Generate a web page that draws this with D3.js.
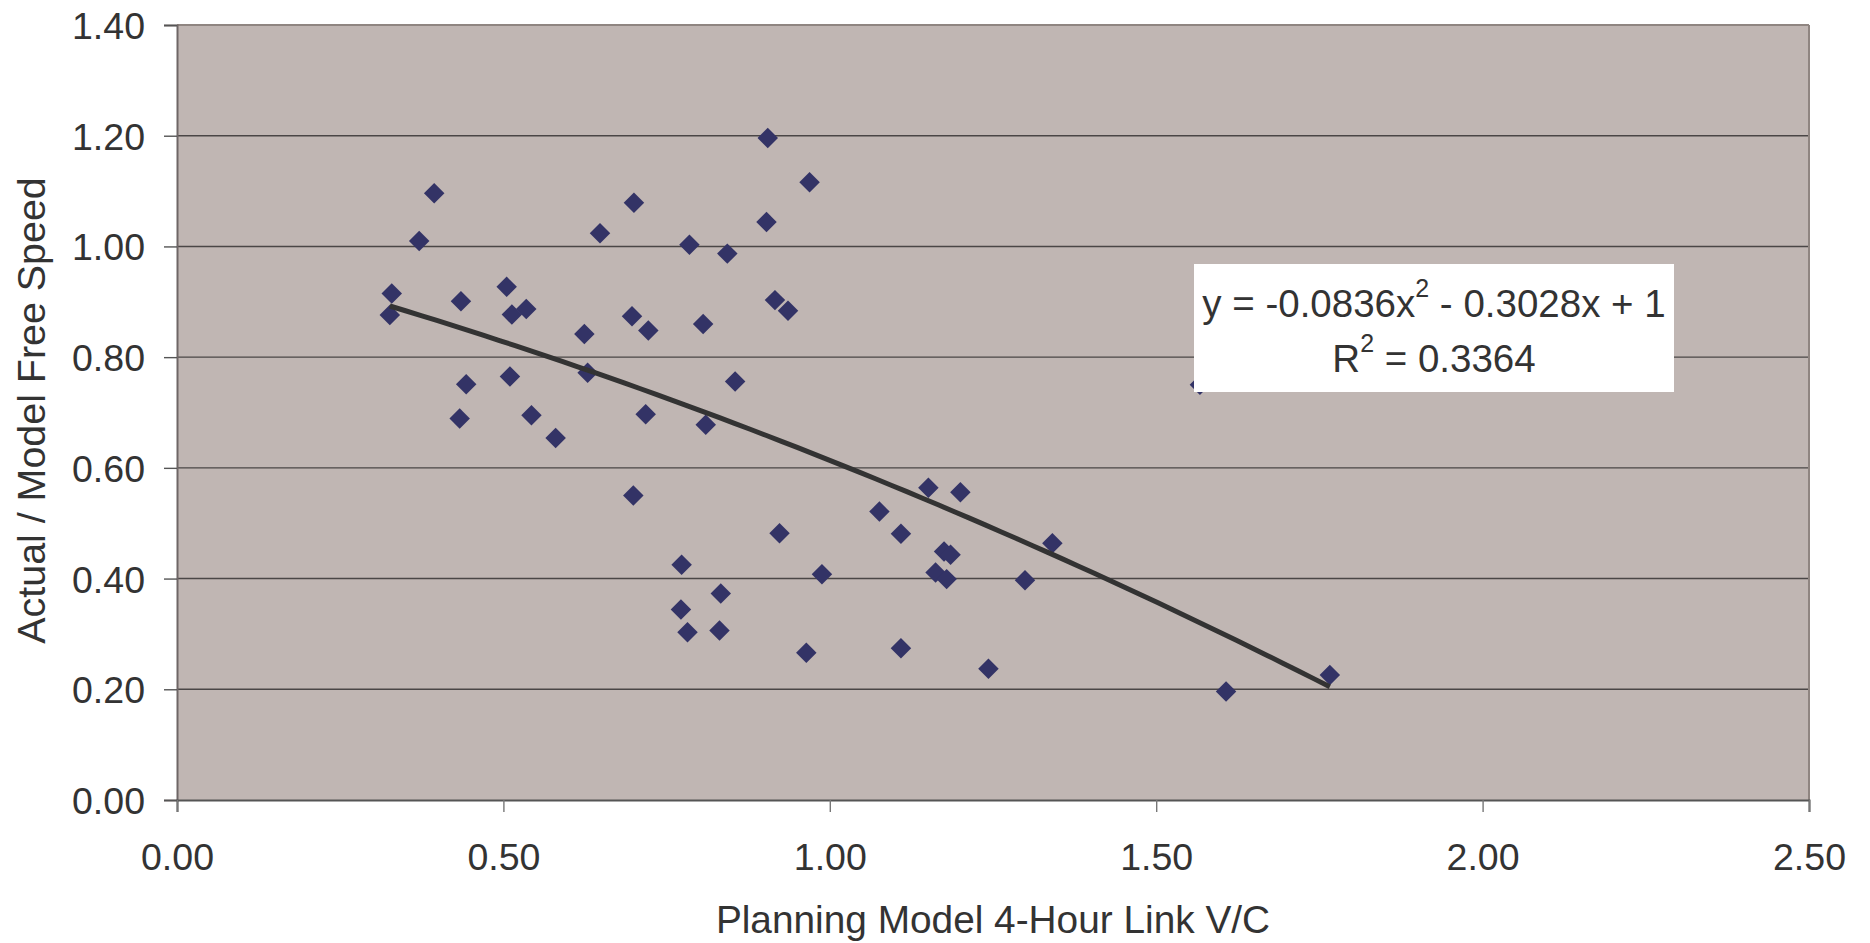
<!DOCTYPE html>
<html><head><meta charset="utf-8">
<script src="https://cdn.jsdelivr.net/npm/d3@7"></script>
<style>
body{margin:0;background:#fff;}
svg text{font-family:"Liberation Sans",Arial,Helvetica,sans-serif;fill:#333333;}
</style>
</head><body>
<svg id="chart" width="1870" height="943"></svg>
<script>
// Planning Model 4-Hour Link V/C (x values)
const vcRatio = [0.326,0.329,0.371,0.394,0.435,0.433,0.443,0.505,0.510,0.513,0.535,0.543,0.580,0.624,0.629,0.648,0.697,0.700,0.699,0.718,0.722,0.773,0.772,0.782,0.785,0.806,0.810,0.833,0.831,0.843,0.855,0.905,0.903,0.916,0.923,0.936,0.964,0.969,0.988,1.076,1.109,1.109,1.151,1.162,1.175,1.179,1.185,1.200,1.243,1.299,1.341,1.567,1.607,1.766];
// Actual / Model Free Speed (y values)
const speedRatio = [0.876,0.915,1.010,1.096,0.901,0.689,0.751,0.927,0.765,0.877,0.887,0.695,0.654,0.842,0.772,1.024,0.874,1.079,0.550,0.697,0.848,0.425,0.344,0.303,1.003,0.860,0.678,0.373,0.306,0.987,0.756,1.196,1.044,0.903,0.482,0.884,0.266,1.116,0.408,0.521,0.481,0.274,0.564,0.411,0.449,0.399,0.443,0.556,0.237,0.397,0.464,0.750,0.196,0.226];
const xTicks = [0, 0.5, 1.0, 1.5, 2.0, 2.5];
const yTicks = [0, 0.2, 0.4, 0.6, 0.8, 1.0, 1.2, 1.4];
// polynomial trendline coefficients: a*x^2 + b*x + c
const trendCoef = [-0.0836, -0.3028, 1];
const eqLine1 = ["y = -0.0836x", "2", " - 0.3028x + 1"];
const eqLine2 = ["R", "2", " = 0.3364"];
const xTitle = "Planning Model 4-Hour Link V/C";
const yTitle = "Actual / Model Free Speed";

const svg = d3.select("#chart");
const L = 177, R = 1809, T = 25, B = 800;
const x = d3.scaleLinear().domain([0, 2.5]).range([L, R]);
const y = d3.scaleLinear().domain([0, 1.4]).range([B, T]);

// plot background
svg.append("rect").attr("x", L).attr("y", T).attr("width", R - L).attr("height", B - T)
  .attr("fill", "#c0b6b3");

// gridlines
svg.append("g").selectAll("line").data(yTicks.filter(v => v > 0 && v < 1.4)).join("line")
  .attr("x1", L).attr("x2", R).attr("y1", d => y(d)).attr("y2", d => y(d))
  .attr("stroke", "#4a4646").attr("stroke-width", 1.4);

// border top/right
svg.append("line").attr("x1", L).attr("x2", R).attr("y1", T).attr("y2", T)
  .attr("stroke", "#8f8581").attr("stroke-width", 2);
svg.append("line").attr("x1", R).attr("x2", R).attr("y1", T).attr("y2", B)
  .attr("stroke", "#8f8581").attr("stroke-width", 2);

// axes
const yAxis = d3.axisLeft(y).tickValues(yTicks).tickFormat(d3.format(".2f")).tickSize(13).tickPadding(19);
const gy = svg.append("g").attr("transform", `translate(${L},0)`).call(yAxis);
gy.select(".domain").attr("stroke", "#6e6666").attr("stroke-width", 2);
gy.selectAll(".tick line").attr("stroke", "#555").attr("stroke-width", 1.4);
gy.selectAll(".tick text").attr("font-size", 37.5).attr("fill", "#333").attr("dy", "0.36em")
  .style("font-family", '"Liberation Sans",Arial,sans-serif');

const xAxis = d3.axisBottom(x).tickValues(xTicks).tickFormat(d3.format(".2f")).tickSize(12).tickPadding(8);
const gx = svg.append("g").attr("transform", `translate(0,${B})`).call(xAxis);
gx.select(".domain").attr("stroke", "#555").attr("stroke-width", 2);
gx.selectAll(".tick line").attr("stroke", "#777").attr("stroke-width", 1.4);
gx.selectAll(".tick text").attr("font-size", 37.5).attr("fill", "#333").attr("dy", "0")
  .attr("y", 70)
  .style("font-family", '"Liberation Sans",Arial,sans-serif');

// points
const pts = vcRatio.map((v, i) => [v, speedRatio[i]]);
const sym = d3.symbol().type(d3.symbolSquare).size(210);
svg.append("g").selectAll("path").data(pts).join("path")
  .attr("d", sym)
  .attr("transform", d => `translate(${x(d[0])},${y(d[1])}) rotate(45)`)
  .attr("fill", "#333366");

// trendline over data range
const xmin = d3.min(vcRatio), xmax = d3.max(vcRatio);
const tx = d3.range(0, 61).map(i => xmin + (xmax - xmin) * i / 60);
const trend = tx.map(v => [v, trendCoef[0] * v * v + trendCoef[1] * v + trendCoef[2]]);
svg.append("path").datum(trend)
  .attr("d", d3.line().x(d => x(d[0])).y(d => y(d[1])))
  .attr("fill", "none").attr("stroke", "#333333").attr("stroke-width", 5);

// equation box
svg.append("rect").attr("x", 1194).attr("y", 264).attr("width", 480).attr("height", 128).attr("fill", "#fff");
const eqCx = 1434;
const t1 = svg.append("text").attr("x", eqCx).attr("y", 317).attr("text-anchor", "middle").attr("font-size", 38.5);
t1.append("tspan").text(eqLine1[0]);
t1.append("tspan").text(eqLine1[1]).attr("font-size", 25).attr("dy", -20);
t1.append("tspan").text(eqLine1[2]).attr("dy", 20);
const t2 = svg.append("text").attr("x", eqCx).attr("y", 372).attr("text-anchor", "middle").attr("font-size", 38.5);
t2.append("tspan").text(eqLine2[0]);
t2.append("tspan").text(eqLine2[1]).attr("font-size", 25).attr("dy", -20);
t2.append("tspan").text(eqLine2[2]).attr("dy", 20);

// axis titles
svg.append("text").attr("x", (L + R) / 2).attr("y", 933).attr("text-anchor", "middle")
  .attr("font-size", 38.8).text(xTitle);
svg.append("text").attr("transform", `translate(45,${(T + B) / 2 - 2}) rotate(-90)`)
  .attr("text-anchor", "middle").attr("font-size", 39.4).text(yTitle);
</script>
</body></html>
